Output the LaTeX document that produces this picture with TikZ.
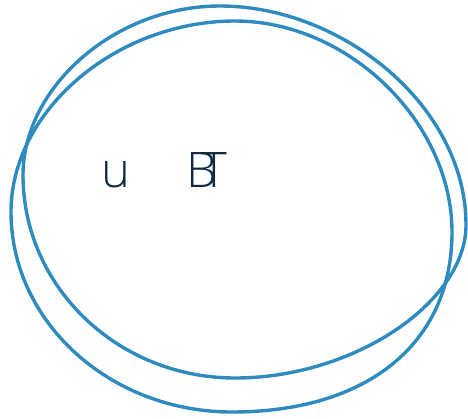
\documentclass[tikz,border=0pt]{standalone}
\usepackage{fontspec}
\setmainfont{Liberation Sans}
\newfontfamily\thinsans{Open Sans}[UprightFont=* Light]
\usepackage{xcolor}
\usepackage{tikz}
\definecolor{loopblue}{HTML}{2E8BC0}
\definecolor{inkblue}{HTML}{0D2B45}

\begin{document}
\begin{tikzpicture}[
x=1pt, y=-1pt,
loop/.style={draw=loopblue, line width=3.4pt, line join=round},
glyph/.style={text=inkblue, inner sep=0pt, anchor=base west, font=\thinsans\fontsize{49}{49}\selectfont}
]
\useasboundingbox (0,0) rectangle (468,418);
% first loop, tilted
\draw[loop] (220,6) .. controls (342,6) and (466,106) .. (466,225)
  .. controls (466,302) and (354,378) .. (235,378)
  .. controls (118,378) and (23,287) .. (23,175)
  .. controls (23,88) and (114,6) .. (220,6) -- cycle;
% second loop, lower
\draw[loop] (235,21) .. controls (348,21) and (452,122) .. (452,232)
  .. controls (452,343) and (368,412) .. (232,412)
  .. controls (110,412) and (11,322) .. (11,212)
  .. controls (11,110) and (117,21) .. (235,21) -- cycle;
% letters
\node[glyph] (u) at (101,187) {u};
\node[glyph] (b) at (186,187) {B};
\node[glyph] (t) at (201,187) {T};
\end{tikzpicture}
\end{document}
